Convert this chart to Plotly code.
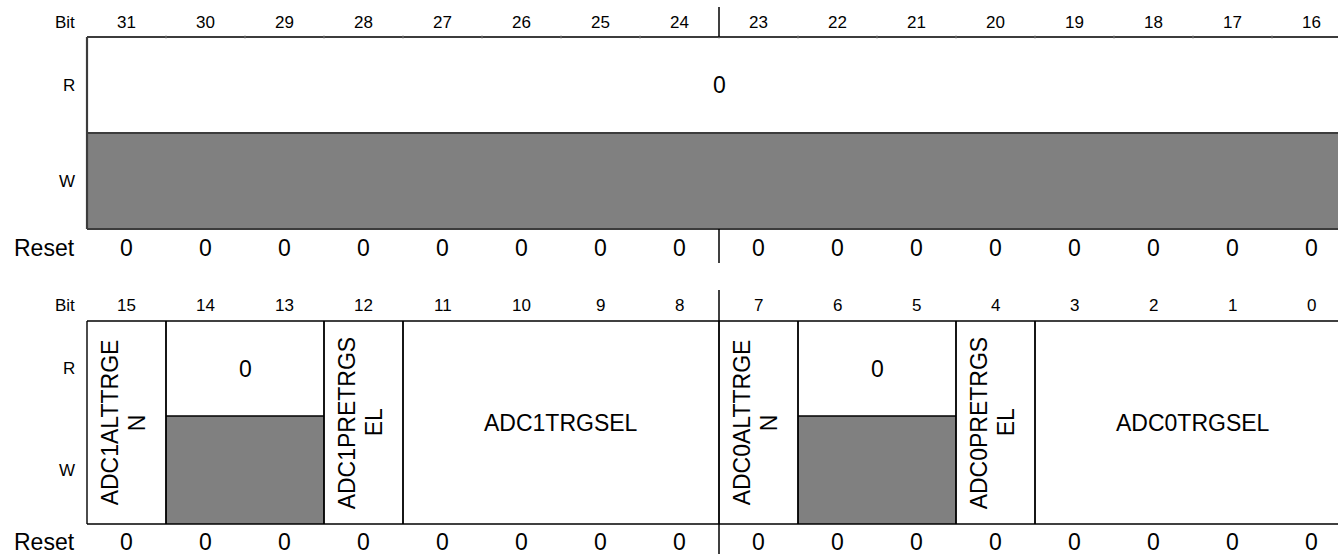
import plotly.graph_objects as go

# ---------------- data ----------------
top_bits = [31, 30, 29, 28, 27, 26, 25, 24, 23, 22, 21, 20, 19, 18, 17, 16]
top_reset = [0, 0, 0, 0, 0, 0, 0, 0, 0, 0, 0, 0, 0, 0, 0, 0]
top_field_labels = ["0"]
top_field_msb = [31]
top_field_lsb = [16]
top_field_access = ["ro"]

bottom_bits = [15, 14, 13, 12, 11, 10, 9, 8, 7, 6, 5, 4, 3, 2, 1, 0]
bottom_reset = [0, 0, 0, 0, 0, 0, 0, 0, 0, 0, 0, 0, 0, 0, 0, 0]
bottom_field_labels = ["ADC1ALTTRGE<br>N", "0", "ADC1PRETRGS<br>EL", "ADC1TRGSEL",
                       "ADC0ALTTRGE<br>N", "0", "ADC0PRETRGS<br>EL", "ADC0TRGSEL"]
bottom_field_msb = [15, 14, 12, 11, 7, 6, 4, 3]
bottom_field_lsb = [15, 13, 12, 8, 7, 5, 4, 0]
bottom_field_access = ["rw", "ro", "rw", "rw", "rw", "ro", "rw", "rw"]

row_labels = ["Bit", "R", "W", "Reset"]

# ---------------- layout constants ----------------
W_PX, H_PX = 1338, 554
LEFT_PX, COL_PX = 87, 79
FONT = "Liberation Sans, Arial, Helvetica, sans-serif"
GRAY = "#808080"
SMALL, BIG = 17, 23
ROT_LINE_GAP = 27 / COL_PX  # spacing between rotated label lines (in bit units)

fig = go.Figure()
shapes = []
annotations = []


def ann(x, y, text, size, xanchor="center", angle=0):
    annotations.append(dict(x=x, y=y, xref="x", yref="y", text=text, showarrow=False,
                            xanchor=xanchor, yanchor="middle", textangle=angle,
                            align="center", borderpad=0,
                            font=dict(family=FONT, size=size, color="black")))


def line(x0, y0, x1, y1, color, width):
    shapes.append(dict(type="line", xref="x", yref="y", x0=x0, y0=y0, x1=x1, y1=y1,
                       line=dict(color=color, width=width), layer="above"))


def rect(x0, y0, x1, y1, fill):
    shapes.append(dict(type="rect", xref="x", yref="y", x0=x0, y0=y0, x1=x1, y1=y1,
                       fillcolor=fill, line=dict(width=0), layer="below"))


def draw_register(bits, reset, labels, msbs, lsbs, access, y_bit, y_top, y_mid, y_bot,
                  y_reset, y_div0, y_div1, lc, lw, ticks):
    top_bit = bits[0]
    n = len(bits)
    # row labels
    label_x = -11 / COL_PX
    ann(label_x, y_bit, row_labels[0], SMALL, "right")
    ann(label_x, (y_top + y_mid) / 2, row_labels[1], SMALL, "right")
    ann(label_x, (y_mid + y_bot) / 2, row_labels[2], SMALL, "right")
    ann(label_x, y_reset, row_labels[3], BIG, "right")
    # bit numbers and reset values
    for i, (b, r) in enumerate(zip(bits, reset)):
        ann(i + 0.5, y_bit, str(b), SMALL)
        ann(i + 0.5, y_reset, str(r), BIG)
    # fields
    for lab, m, l, a in zip(labels, msbs, lsbs, access):
        x0 = top_bit - m
        x1 = top_bit - l + 1
        if a == "ro":
            rect(x0, y_top, x1, y_mid, "white")
            rect(x0, y_mid, x1, y_bot, GRAY)
            line(x0, y_mid, x1, y_mid, lc, lw)
            ann((x0 + x1) / 2, (y_top + y_mid) / 2, lab, BIG)
        else:
            rect(x0, y_top, x1, y_bot, "white")
            if m == l:
                parts = lab.split("<br>")
                k = len(parts)
                xc = (x0 + x1) / 2 - 0.04
                for j, p in enumerate(parts):
                    ann(xc + (j - (k - 1) / 2) * ROT_LINE_GAP, (y_top + y_bot) / 2, p, BIG,
                        angle=-90)
            else:
                ann((x0 + x1) / 2, (y_top + y_bot) / 2, lab, BIG)
        line(x0, y_top, x0, y_bot, lc, lw)
        line(x1, y_top, x1, y_bot, lc, lw)
    # outer frame
    line(0, y_top, n, y_top, lc, lw)
    line(0, y_bot, n, y_bot, lc, lw)
    # tiny ticks on the top border
    if ticks:
        for i in range(1, n):
            line(i, y_top - 1.5, i, y_top + 1.5, "#777777", 1)
    # half-word divider
    line(n / 2, y_div0, n / 2, y_top, "black", 1.5)
    line(n / 2, y_bot, n / 2, y_div1, "black", 1.5)


draw_register(top_bits, top_reset, top_field_labels, top_field_msb, top_field_lsb,
              top_field_access, y_bit=22, y_top=37, y_mid=133, y_bot=229, y_reset=248,
              y_div0=7, y_div1=263, lc="#3c3c3c", lw=2.2, ticks=True)
draw_register(bottom_bits, bottom_reset, bottom_field_labels, bottom_field_msb,
              bottom_field_lsb, bottom_field_access, y_bit=305, y_top=321, y_mid=416,
              y_bot=524, y_reset=542, y_div0=290, y_div1=556, lc="black", lw=1.4, ticks=False)

x_lo = -LEFT_PX / COL_PX
x_hi = (W_PX - LEFT_PX) / COL_PX
fig.update_layout(
    width=W_PX, height=H_PX,
    margin=dict(l=0, r=0, t=0, b=0),
    paper_bgcolor="white", plot_bgcolor="white",
    xaxis=dict(range=[x_lo, x_hi], visible=False, fixedrange=True),
    yaxis=dict(range=[H_PX, 0], visible=False, fixedrange=True),
    shapes=shapes, annotations=annotations, showlegend=False,
)
fig.write_html("out.html", config={"displayModeBar": False},
               post_script="document.body.style.margin='0';document.body.style.overflow='hidden';")
